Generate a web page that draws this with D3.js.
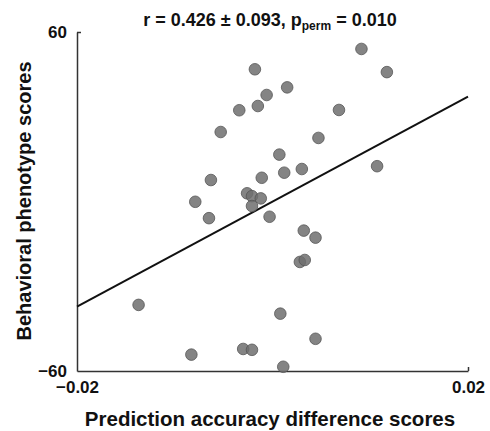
<!DOCTYPE html>
<html>
<head>
<meta charset="utf-8">
<script src="https://cdn.jsdelivr.net/npm/d3@7"></script>
<style>
  body { margin: 0; background: #fff; }
  text { font-family: "Liberation Sans", Arial, sans-serif; font-weight: bold; }
</style>
</head>
<body>
<div id="chart_container"></div>
<script>
// Data
var x_data = [-0.0137, -0.0083, -0.0079, -0.0065, -0.0063, -0.0053, -0.0034, -0.0030,
              -0.0026, -0.0021, -0.0021, -0.0021, -0.0018, -0.0015, -0.0012, -0.0011,
              -0.0006, -0.0003, 0.0007, 0.0008, 0.0011, 0.0012, 0.0015, 0.0030,
              0.0032, 0.0028, 0.0033, 0.0044, 0.0044, 0.0047, 0.0068, 0.0091,
              0.0107, 0.0117];
var y_data = [-36.6, -54.2, -0.1, -5.9, 7.6, 24.6, 32.3, -52.2,
              2.9, 1.9, -52.5, -1.6, 46.8, 33.8, 1.1, 8.4,
              37.7, -5.4, 16.6, -39.7, -58.5, 10.2, 40.4, 11.5,
              -10.3, -21.4, -20.7, -12.8, -48.6, 22.5, 32.4, 54.0,
              12.5, 45.8];
var fit_x = [-0.02, 0.02];
var fit_y = [-37.2, 37.1];
var x_ticks = [-0.02, 0.02];
var y_ticks = [-60, 60];

// Chart dimensions
var width = 490
var height = 431
var margin = {top: 32, right: 22, bottom: 60, left: 77}

var x_scale = d3.scaleLinear()
    .domain([-0.02, 0.02])
    .range([margin.left, width - margin.right]);

var y_scale = d3.scaleLinear()
    .domain([-60, 60])
    .range([height - margin.bottom, margin.top]);

var svg = d3.select("#chart_container")
    .append("svg")
    .attr("width", width)
    .attr("height", height)

// Axes (ticks point inward)
var x_axis = d3.axisBottom(x_scale)
    .tickValues(x_ticks)
    .tickSizeInner(-4)
    .tickSizeOuter(0)
    .tickFormat(d3.format(".2f"));

var y_axis = d3.axisLeft(y_scale)
    .tickValues(y_ticks)
    .tickSizeInner(-4)
    .tickSizeOuter(0);

var gx = svg.append("g")
    .attr("transform", "translate(0," + y_scale(-60) + ")")
    .call(x_axis);
gx.attr("font-size", null).attr("font-family", null);
gx.selectAll("text").attr("y", 10).style("font-size", "17px").attr("fill", "#111");
gx.select(".tick:first-of-type line").remove();

var gy = svg.append("g")
    .attr("transform", "translate(" + x_scale(-0.02) + ",0)")
    .call(y_axis);
gy.attr("font-size", null).attr("font-family", null);
gy.selectAll("text").attr("x", -10).style("font-size", "17px").attr("fill", "#111");
gy.select(".tick:first-of-type line").remove();

svg.selectAll(".domain, .tick line")
    .attr("stroke", "#333")
    .attr("stroke-width", 1.5);

// Fit line
svg.append("line")
    .attr("x1", x_scale(fit_x[0]))
    .attr("y1", y_scale(fit_y[0]))
    .attr("x2", x_scale(fit_x[1]))
    .attr("y2", y_scale(fit_y[1]))
    .attr("stroke", "#111")
    .attr("stroke-width", 2);

// Points
svg.append("g")
    .selectAll("circle")
    .data(x_data)
    .enter()
    .append("circle")
    .attr("cx", function(d) { return x_scale(d); })
    .attr("cy", function(d, i) { return y_scale(y_data[i]); })
    .attr("r", 5.8)
    .attr("fill", "#6e6e6e")
    .attr("fill-opacity", 0.85)
    .attr("stroke", "#555")
    .attr("stroke-width", 0.8);

// Title
var title = svg.append("text")
    .attr("x", 270)
    .attr("y", 26)
    .style("text-anchor", "middle")
    .style("font-size", "18px")
    .attr("fill", "#111");
title.append("tspan").text("r = 0.426 \u00B1 0.093, p");
title.append("tspan").attr("dy", 4).style("font-size", "12px").text("perm");
title.append("tspan").attr("dy", -4).text(" = 0.010");

// Axis labels
svg.append("text")
    .attr("x", 270)
    .attr("y", 426)
    .style("text-anchor", "middle")
    .style("font-size", "20.5px")
    .attr("fill", "#111")
    .text("Prediction accuracy difference scores");

svg.append("text")
    .attr("transform", "translate(31,201) rotate(-90)")
    .style("text-anchor", "middle")
    .style("font-size", "20px")
    .attr("fill", "#111")
    .text("Behavioral phenotype scores");
</script>
</body>
</html>
